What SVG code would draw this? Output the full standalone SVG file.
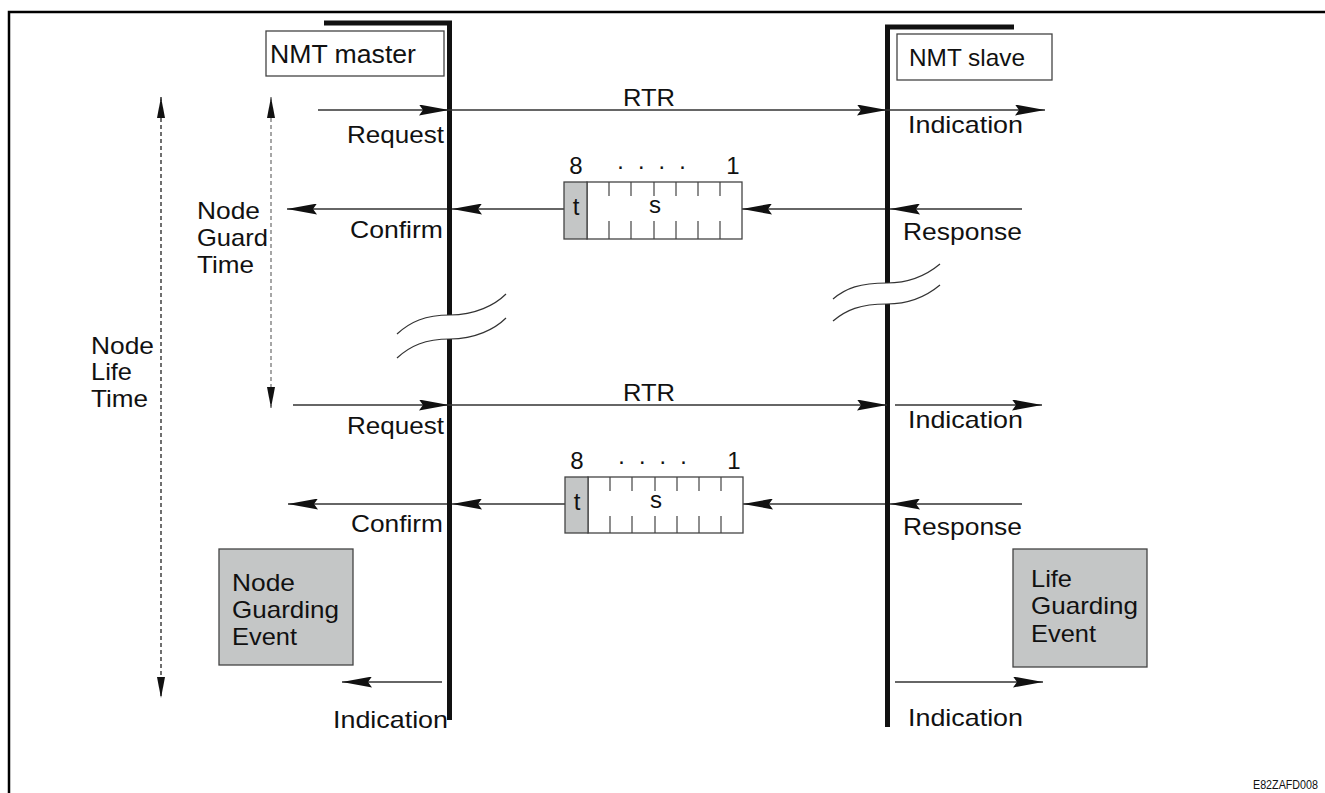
<svg xmlns="http://www.w3.org/2000/svg" width="1325" height="793" viewBox="0 0 1325 793">
<style>
text{font-family:"Liberation Sans",Arial,sans-serif;font-size:24px;fill:#111}
.ln{stroke:#333;stroke-width:1.3;fill:none}
.arr{stroke:#333;stroke-width:1.3;fill:none;marker-end:url(#ah)}
.life{stroke:#111;stroke-width:5;fill:none}
.brk{stroke:#333;stroke-width:1.2;fill:none}
.box{fill:#fff;stroke:#444;stroke-width:1.3}
.gray{fill:#c4c6c6;stroke:#444;stroke-width:1.3}
.tick{stroke:#444;stroke-width:1.2}
.mid{text-anchor:middle}
</style>
<defs>
<marker id="ah" markerUnits="userSpaceOnUse" markerWidth="30" markerHeight="11" refX="30" refY="5.5" orient="auto"><path d="M0,0 L30,5.5 L0,11 L4,5.5 Z" fill="#111"/></marker>
<marker id="dh" markerUnits="userSpaceOnUse" markerWidth="21" markerHeight="8" refX="21" refY="4" orient="auto-start-reverse"><path d="M0,0 L21,4 L0,8 Z" fill="#111"/></marker>
</defs>
<rect width="1325" height="793" fill="#fff"/>
<g id="frame"><path d="M9,793 V12 H1325" stroke="#000" stroke-width="2.5" fill="none"/></g>

<g id="master">
<path class="life" d="M324,23 H449.5 V315"/>
<path class="life" d="M449.5,339 V720"/>
<path class="brk" d="M397,334 C410,322 425,315 450,315 C475,315 495,305 506,294"/>
<path class="brk" d="M397,358 C410,346 425,339 450,339 C475,339 495,329 506,318"/>
<rect class="box" x="266" y="31" width="178" height="45"/>
<text x="270" y="63" textLength="146" lengthAdjust="spacingAndGlyphs" style="font-size:25px">NMT master</text>
</g>

<g id="slave">
<path class="life" d="M1014,27 H887.5 V283"/>
<path class="life" d="M887.5,304 V727"/>
<path class="brk" d="M833,299 C846,288 860,283 887,283 C912,283 928,274 940,264"/>
<path class="brk" d="M833,321 C846,310 860,304 887,304 C912,304 928,295 940,285"/>
<rect class="box" x="897" y="34" width="155" height="46"/>
<text x="909" y="66" textLength="116" lengthAdjust="spacingAndGlyphs">NMT slave</text>
</g>

<g id="connectors">
<line class="arr" x1="318" y1="110" x2="449" y2="110"/>
<line class="arr" x1="449" y1="110" x2="887" y2="110"/>
<line class="arr" x1="887" y1="110" x2="1045" y2="110"/>
<line class="arr" x1="564" y1="209" x2="452" y2="209"/>
<line class="arr" x1="447" y1="209" x2="287" y2="209"/>
<line class="arr" x1="885" y1="209" x2="742" y2="209"/>
<line class="arr" x1="1022" y1="209" x2="890" y2="209"/>
<line class="arr" x1="293" y1="405" x2="449" y2="405"/>
<line class="arr" x1="449" y1="405" x2="887" y2="405"/>
<line class="arr" x1="895" y1="405" x2="1042" y2="405"/>
<line class="arr" x1="565" y1="504" x2="452" y2="504"/>
<line class="arr" x1="447" y1="504" x2="288" y2="504"/>
<line class="arr" x1="885" y1="504" x2="743" y2="504"/>
<line class="arr" x1="1022" y1="504" x2="890" y2="504"/>
<line class="arr" x1="442" y1="682" x2="342" y2="682"/>
<line class="arr" x1="895" y1="682" x2="1043" y2="682"/>
<line x1="161" y1="97" x2="161" y2="698" stroke="#222" stroke-width="1.3" stroke-dasharray="4 3" marker-start="url(#dh)" marker-end="url(#dh)"/>
<line x1="271" y1="97" x2="271" y2="408" stroke="#777" stroke-width="1.3" stroke-dasharray="4 3" marker-start="url(#dh)" marker-end="url(#dh)"/>
</g>

<g id="labels">
<text x="623" y="106" textLength="52" lengthAdjust="spacingAndGlyphs">RTR</text>
<text x="347" y="143" textLength="97" lengthAdjust="spacingAndGlyphs">Request</text>
<text x="908" y="133" textLength="115" lengthAdjust="spacingAndGlyphs">Indication</text>
<text x="350" y="238" textLength="93" lengthAdjust="spacingAndGlyphs">Confirm</text>
<text x="903" y="240" textLength="119" lengthAdjust="spacingAndGlyphs">Response</text>
<text x="623" y="401" textLength="52" lengthAdjust="spacingAndGlyphs">RTR</text>
<text x="347" y="434" textLength="97" lengthAdjust="spacingAndGlyphs">Request</text>
<text x="908" y="428" textLength="115" lengthAdjust="spacingAndGlyphs">Indication</text>
<text x="351" y="532" textLength="92" lengthAdjust="spacingAndGlyphs">Confirm</text>
<text x="903" y="535" textLength="119" lengthAdjust="spacingAndGlyphs">Response</text>
<text x="333" y="728" textLength="115" lengthAdjust="spacingAndGlyphs">Indication</text>
<text x="908" y="726" textLength="115" lengthAdjust="spacingAndGlyphs">Indication</text>
</g>

<g id="node-guard-time">
<text x="197" y="219" textLength="63" lengthAdjust="spacingAndGlyphs">Node</text>
<text x="197" y="246" textLength="71" lengthAdjust="spacingAndGlyphs">Guard</text>
<text x="197" y="273" textLength="57" lengthAdjust="spacingAndGlyphs">Time</text>
</g>
<g id="node-life-time">
<text x="91" y="354" textLength="63" lengthAdjust="spacingAndGlyphs">Node</text>
<text x="91" y="380" textLength="41" lengthAdjust="spacingAndGlyphs">Life</text>
<text x="91" y="407" textLength="57" lengthAdjust="spacingAndGlyphs">Time</text>
</g>

<g id="frame1">
<rect class="box" x="587" y="182" width="155" height="57"/>
<rect class="gray" x="564" y="182" width="23" height="57"/>
<path class="tick" d="M609,182V196M631,182V196M654,182V196M676,182V196M698,182V196M720,182V196M609,221V239M631,221V239M654,221V239M676,221V239M698,221V239M720,221V239"/>
<text class="mid" x="576" y="174">8</text>
<text class="mid" x="653" y="174" style="letter-spacing:3px">· · · ·</text>
<text class="mid" x="733" y="174">1</text>
<text class="mid" x="576" y="215">t</text>
<text class="mid" x="655" y="213">s</text>
</g>

<g id="frame2">
<rect class="box" x="588" y="477" width="155" height="56"/>
<rect class="gray" x="565" y="477" width="23" height="56"/>
<path class="tick" d="M610,477V491M632,477V491M655,477V491M677,477V491M699,477V491M721,477V491M610,516V533M632,516V533M655,516V533M677,516V533M699,516V533M721,516V533"/>
<text class="mid" x="577" y="469">8</text>
<text class="mid" x="654" y="469" style="letter-spacing:3px">· · · ·</text>
<text class="mid" x="734" y="469">1</text>
<text class="mid" x="577" y="510">t</text>
<text class="mid" x="656" y="508">s</text>
</g>

<g id="node-guarding-event">
<rect class="gray" x="219" y="549" width="134" height="116"/>
<text x="232" y="591" textLength="63" lengthAdjust="spacingAndGlyphs">Node</text>
<text x="232" y="618" textLength="107" lengthAdjust="spacingAndGlyphs">Guarding</text>
<text x="232" y="645" textLength="65" lengthAdjust="spacingAndGlyphs">Event</text>
</g>
<g id="life-guarding-event">
<rect class="gray" x="1013" y="549" width="134" height="118"/>
<text x="1031" y="587" textLength="41" lengthAdjust="spacingAndGlyphs">Life</text>
<text x="1031" y="614" textLength="107" lengthAdjust="spacingAndGlyphs">Guarding</text>
<text x="1031" y="642" textLength="65" lengthAdjust="spacingAndGlyphs">Event</text>
</g>

<text x="1253" y="789" textLength="65" lengthAdjust="spacingAndGlyphs" style="font-size:12px">E82ZAFD008</text>
</svg>
